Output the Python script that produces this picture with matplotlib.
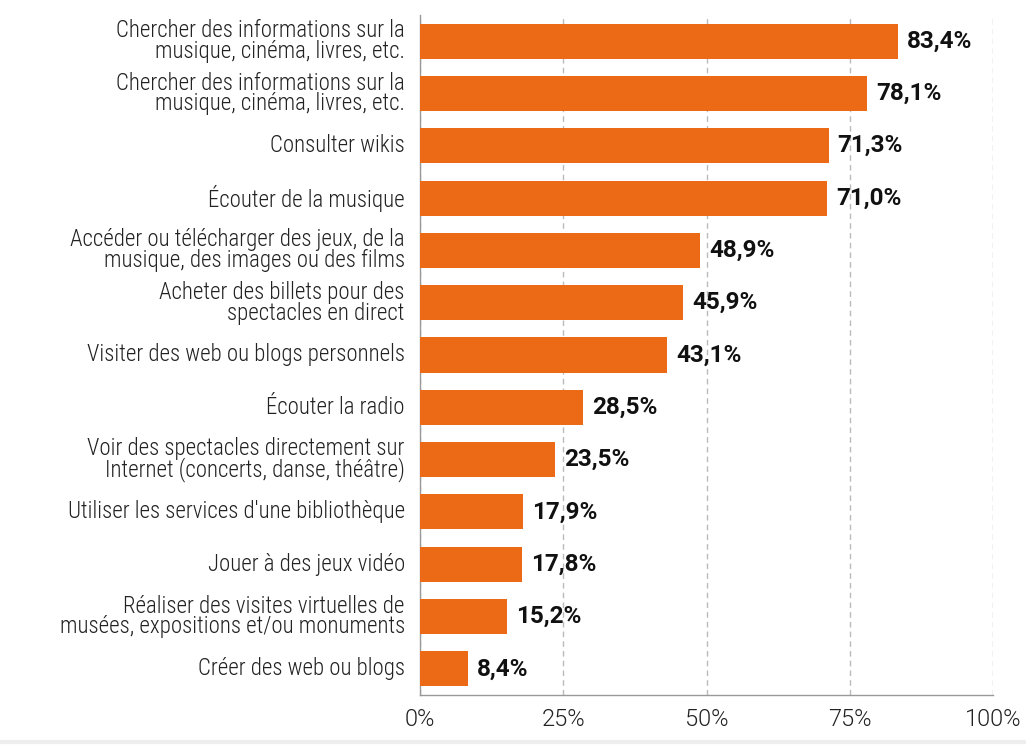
import matplotlib.pyplot as plt
from matplotlib.lines import Line2D

# data
labels = [
    'Chercher des informations sur la\nmusique, cinéma, livres, etc.',
    'Chercher des informations sur la\nmusique, cinéma, livres, etc.',
    'Consulter wikis',
    'Écouter de la musique',
    'Accéder ou télécharger des jeux, de la\nmusique, des images ou des films',
    'Acheter des billets pour des\nspectacles en direct',
    'Visiter des web ou blogs personnels',
    'Écouter la radio',
    'Voir des spectacles directement sur\nInternet (concerts, danse, théâtre)',
    "Utiliser les services d'une bibliothèque",
    'Jouer à des jeux vidéo',
    'Réaliser des visites virtuelles de\nmusées, expositions et/ou monuments',
    'Créer des web ou blogs',
]
values = [83.4, 78.1, 71.3, 71.0, 48.9, 45.9, 43.1, 28.5, 23.5, 17.9, 17.8, 15.2, 8.4]
xticks = [0, 25, 50, 75, 100]

plt.rcParams['font.family'] = ['Roboto Condensed', 'Roboto', 'DejaVu Sans']

fig = plt.figure(figsize=(10.26, 7.45), dpi=100)
ax = fig.add_axes([0.4094, 0.0671, 0.5584, 0.9128])

pos = list(range(len(values)))
ax.barh(pos, values, height=0.67, color='#EC6A15', zorder=3)

# value labels, Roboto bold (not condensed)
for p, v in zip(pos, values):
    ax.annotate(f'{v:.1f}%'.replace('.', ','), (v, p), xytext=(6.5, 0),
                textcoords='offset points', va='center', ha='left',
                fontsize=17.5, fontweight='bold', family=['Roboto', 'DejaVu Sans'],
                color='#111111', zorder=4)

ax.set_ylim(len(values) - 0.5, -0.5)
ax.set_xlim(0, 100)
ax.set_yticks(pos)
ax.set_yticklabels(labels, fontsize=16.5, fontweight=300, color='#222222',
                   linespacing=0.88, va='center')
ax.set_xticks(xticks)
ax.set_xticklabels([f'{t}%' for t in xticks], fontsize=17, fontweight=300,
                   family=['Roboto', 'DejaVu Sans'], color='#222222')
ax.tick_params(axis='both', length=0)
ax.tick_params(axis='x', pad=9)
ax.tick_params(axis='y', pad=11)

ax.grid(axis='x', color='#bbbbbb', linestyle=(0, (4, 3)), linewidth=1, zorder=0)
for s in ['top', 'right']:
    ax.spines[s].set_visible(False)
for s in ['left', 'bottom']:
    ax.spines[s].set_color('#999999')
    ax.spines[s].set_linewidth(1)

fig.add_artist(Line2D([0, 1], [0.004, 0.004], color='#eeeeee', linewidth=3,
                      transform=fig.transFigure))

fig.savefig('out.png', dpi=100)
